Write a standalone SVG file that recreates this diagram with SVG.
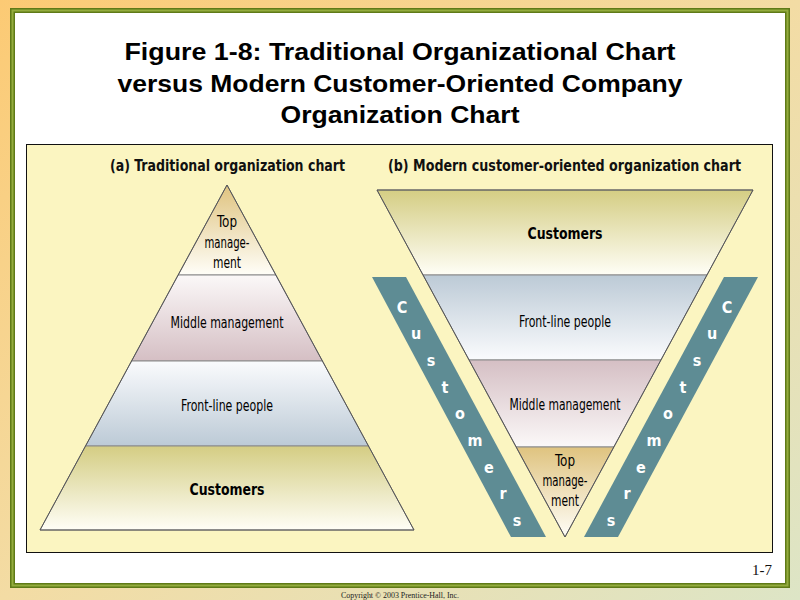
<svg xmlns="http://www.w3.org/2000/svg" width="800" height="600" viewBox="0 0 800 600">
<defs>
<linearGradient id="bg" x1="0" y1="0" x2="1" y2="1">
<stop offset="0" stop-color="#FCCA74"/>
<stop offset="0.5" stop-color="#F3DCA4"/>
<stop offset="1" stop-color="#DDE5C6"/>
</linearGradient>
<linearGradient id="gTan" x1="0" y1="0" x2="0" y2="1">
<stop offset="0" stop-color="#DFC37F"/>
<stop offset="1" stop-color="#FFFEF8"/>
</linearGradient>
<linearGradient id="gPinkUp" x1="0" y1="0" x2="0" y2="1">
<stop offset="0" stop-color="#FBF8F8"/>
<stop offset="1" stop-color="#D5BFC4"/>
</linearGradient>
<linearGradient id="gBlueUp" x1="0" y1="0" x2="0" y2="1">
<stop offset="0" stop-color="#FAFBFD"/>
<stop offset="1" stop-color="#BCCAD6"/>
</linearGradient>
<linearGradient id="gOlive" x1="0" y1="0" x2="0" y2="1">
<stop offset="0" stop-color="#D4CD83"/>
<stop offset="1" stop-color="#FFFEF6"/>
</linearGradient>
<linearGradient id="gBlueDn" x1="0" y1="0" x2="0" y2="1">
<stop offset="0" stop-color="#BCCAD6"/>
<stop offset="1" stop-color="#FAFBFD"/>
</linearGradient>
<linearGradient id="gPinkDn" x1="0" y1="0" x2="0" y2="1">
<stop offset="0" stop-color="#D5BFC4"/>
<stop offset="1" stop-color="#FBF8F8"/>
</linearGradient>
<style>
.band{stroke:#8a8a8a;stroke-width:1}
.edge{fill:none;stroke:#555;stroke-width:1}
.lbl{font-family:"DejaVu Sans Condensed","Liberation Sans Narrow","Liberation Sans",sans-serif;font-stretch:condensed;font-size:16px;fill:#000;text-anchor:middle}
.b{font-weight:bold}
.hdr{font-family:"DejaVu Sans Condensed","Liberation Sans Narrow","Liberation Sans",sans-serif;font-stretch:condensed;font-size:16px;font-weight:bold;fill:#111;text-anchor:middle}
.title{font-family:"Liberation Sans",Arial,sans-serif;font-size:23px;font-weight:bold;fill:#000;text-anchor:middle}
.bar{fill:#5E8C94}
.cl{font-family:"DejaVu Sans Condensed","Liberation Sans Narrow","Liberation Sans",sans-serif;font-size:16px;font-weight:bold;fill:#fff;text-anchor:middle}
</style>
</defs>

<rect x="0" y="0" width="800" height="600" fill="url(#bg)"/>
<rect x="12.5" y="10.5" width="775" height="575" fill="#fff" stroke="#5F7A17" stroke-width="5"/>
<rect x="12.5" y="10.5" width="775" height="575" fill="none" stroke="#94AC3E" stroke-width="2"/>

<g id="title">
<text class="title" x="400" y="60" textLength="551" lengthAdjust="spacingAndGlyphs">Figure 1-8: Traditional Organizational Chart</text>
<text class="title" x="400" y="92" textLength="565" lengthAdjust="spacingAndGlyphs">versus Modern Customer-Oriented Company</text>
<text class="title" x="400" y="123" textLength="239" lengthAdjust="spacingAndGlyphs">Organization Chart</text>
</g>

<rect id="panel" x="26.5" y="144.5" width="746" height="408" fill="#FBF5C1" stroke="#111" stroke-width="1"/>

<g id="headers">
<text class="hdr" x="227.5" y="171" textLength="235" lengthAdjust="spacingAndGlyphs">(a) Traditional organization chart</text>
<text class="hdr" x="564.5" y="171" textLength="353" lengthAdjust="spacingAndGlyphs">(b) Modern customer-oriented organization chart</text>
</g>

<g id="left-pyramid">
<g id="a-top">
<polygon class="band" points="227,185 276,275 178,275" fill="url(#gTan)"/>
<text class="lbl" x="227" y="227" textLength="20" lengthAdjust="spacingAndGlyphs">Top</text>
<text class="lbl" x="227" y="248" textLength="45" lengthAdjust="spacingAndGlyphs">manage-</text>
<text class="lbl" x="227" y="268" textLength="28" lengthAdjust="spacingAndGlyphs">ment</text>
</g>
<g id="a-middle">
<polygon class="band" points="178,275 276,275 322.5,361 131.5,361" fill="url(#gPinkUp)"/>
<text class="lbl" x="227" y="328" textLength="113" lengthAdjust="spacingAndGlyphs">Middle management</text>
</g>
<g id="a-front">
<polygon class="band" points="131.5,361 322.5,361 368.5,446 85.5,446" fill="url(#gBlueUp)"/>
<text class="lbl" x="227" y="411" textLength="92" lengthAdjust="spacingAndGlyphs">Front-line people</text>
</g>
<g id="a-customers">
<polygon class="band" points="85.5,446 368.5,446 414,530 40,530" fill="url(#gOlive)"/>
<text class="lbl b" x="227" y="495" textLength="75" lengthAdjust="spacingAndGlyphs">Customers</text>
</g>
<polygon class="edge" points="227,185 414,530 40,530"/>
</g>

<g id="right-pyramid">
<g id="b-customers">
<polygon class="band" points="377,190 753,190 707,275 423,275" fill="url(#gOlive)"/>
<text class="lbl b" x="565" y="239" textLength="75" lengthAdjust="spacingAndGlyphs">Customers</text>
</g>
<g id="b-front">
<polygon class="band" points="423,275 707,275 661,360 469,360" fill="url(#gBlueDn)"/>
<text class="lbl" x="565" y="327" textLength="92" lengthAdjust="spacingAndGlyphs">Front-line people</text>
</g>
<g id="b-middle">
<polygon class="band" points="469,360 661,360 614,447 516,447" fill="url(#gPinkDn)"/>
<text class="lbl" x="565" y="410" textLength="111" lengthAdjust="spacingAndGlyphs">Middle management</text>
</g>
<g id="b-top">
<polygon class="band" points="516,447 614,447 565,537" fill="url(#gTan)"/>
<text class="lbl" x="565" y="466" textLength="20" lengthAdjust="spacingAndGlyphs">Top</text>
<text class="lbl" x="565" y="486" textLength="45" lengthAdjust="spacingAndGlyphs">manage-</text>
<text class="lbl" x="565" y="506" textLength="28" lengthAdjust="spacingAndGlyphs">ment</text>
</g>
<polygon class="edge" points="377,190 753,190 565,537"/>
</g>

<g id="customers-left">
<polygon class="bar" points="372,277 406,277 546,537 511,537"/>
<text class="cl" x="402" y="313">C</text>
<text class="cl" x="416" y="339">u</text>
<text class="cl" x="431" y="366">s</text>
<text class="cl" x="445" y="393">t</text>
<text class="cl" x="460" y="419">o</text>
<text class="cl" x="475" y="446">m</text>
<text class="cl" x="489" y="473">e</text>
<text class="cl" x="503" y="499">r</text>
<text class="cl" x="517" y="526">s</text>
</g>

<g id="customers-right">
<polygon class="bar" points="724,277 758,277 618,537 584,537"/>
<text class="cl" x="727" y="313">C</text>
<text class="cl" x="712" y="339">u</text>
<text class="cl" x="697" y="366">s</text>
<text class="cl" x="683" y="393">t</text>
<text class="cl" x="668" y="419">o</text>
<text class="cl" x="654" y="446">m</text>
<text class="cl" x="641" y="473">e</text>
<text class="cl" x="627" y="499">r</text>
<text class="cl" x="611" y="526">s</text>
</g>

<text x="772" y="575" font-family="'Liberation Serif','Times New Roman',serif" font-size="15" fill="#111" text-anchor="end">1-7</text>
<text x="400" y="598" font-family="'Liberation Serif','Times New Roman',serif" font-size="8" fill="#222" text-anchor="middle" textLength="118" lengthAdjust="spacingAndGlyphs">Copyright © 2003 Prentice-Hall, Inc.</text>
</svg>
